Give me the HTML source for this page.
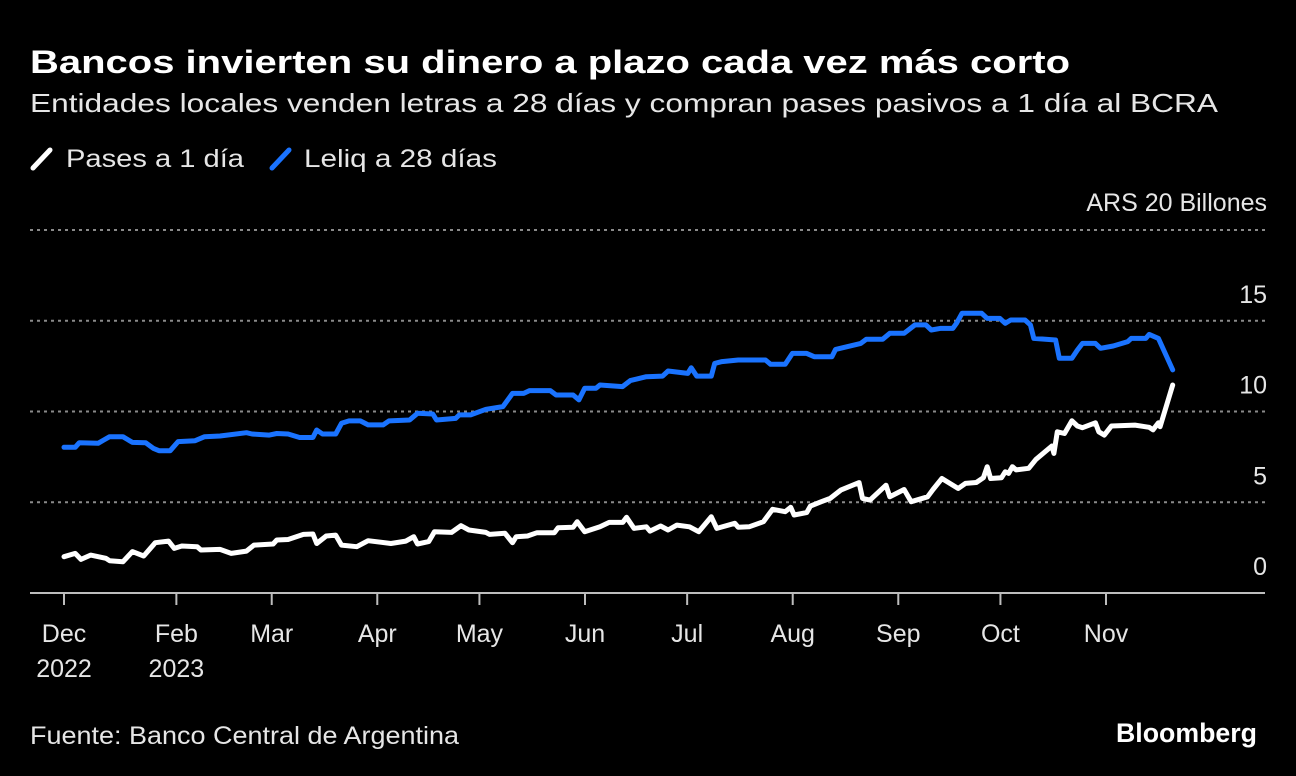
<!DOCTYPE html>
<html><head><meta charset="utf-8"><style>
html,body{margin:0;padding:0;background:#000;}
svg{display:block;}
text{font-family:"Liberation Sans",sans-serif;}
</style></head><body>
<svg id="chart" width="1296" height="776" viewBox="0 0 1296 776" xmlns="http://www.w3.org/2000/svg">
<rect width="1296" height="776" fill="#000"/>
<text x="30" y="73" fill="#fff" font-size="32" font-weight="bold" textLength="1040" lengthAdjust="spacingAndGlyphs">Bancos invierten su dinero a plazo cada vez más corto</text>
<text x="30" y="112" fill="#e6e6e6" font-size="26" textLength="1188" lengthAdjust="spacingAndGlyphs">Entidades locales venden letras a 28 días y compran pases pasivos a 1 día al BCRA</text>
<g>
<line x1="33" y1="168" x2="50" y2="150" stroke="#fff" stroke-width="5" stroke-linecap="round"/>
<text x="66" y="167" fill="#e6e6e6" font-size="25" textLength="178" lengthAdjust="spacingAndGlyphs">Pases a 1 día</text>
</g>
<g>
<line x1="272" y1="168" x2="289" y2="150" stroke="#1a73ff" stroke-width="5" stroke-linecap="round"/>
<text x="304" y="167" fill="#e6e6e6" font-size="25" textLength="193" lengthAdjust="spacingAndGlyphs">Leliq a 28 días</text>
</g>
<text x="1267" y="211" fill="#e6e6e6" font-size="25" text-anchor="end">ARS 20  Billones</text>
<g id="grid"></g>
<g id="axis"></g>
<g id="series"></g>
<text x="30" y="744" fill="#e6e6e6" font-size="25" textLength="429" lengthAdjust="spacingAndGlyphs">Fuente: Banco Central de Argentina</text>
<text x="1257" y="742" fill="#fff" font-size="27" font-weight="bold" text-anchor="end" textLength="141" lengthAdjust="spacingAndGlyphs">Bloomberg</text>
</svg>
<script>
const yTicks = [0, 5, 10, 15];
const monthDays = [0, 33, 61, 92, 122, 153, 183, 214, 245, 275, 306];
const monthLabels = ["Dec","Feb","Mar","Apr","May","Jun","Jul","Aug","Sep","Oct","Nov"];
const yearLabels = ["2022","2023","","","","","","","","",""];
const leliqDays = [0,3.3,4.5,10,11.7,13.4,17.3,20.1,24,26.2,27.9,31.2,33.5,38.5,41.3,45.8,53.6,55.2,60.3,62.5,65.8,69.2,73.1,74.2,75.9,79.8,81.5,83.7,87,89.3,93.7,95.4,101.5,103.8,108.3,109.4,115,116.1,119.4,123.9,128.9,131.7,135,136.7,142.8,144.5,149.5,151.2,152.9,156.2,157.4,164,166.3,171,175.8,177.4,183.2,184.2,185.8,190.1,191.1,193.2,198,206,207.5,211.8,213.9,218.1,220.3,225.5,226.6,234,235.6,240.4,242.5,246.7,249.9,253.1,254.7,257.3,261,262.1,263.7,269.5,271.1,274.8,276.4,278,282.2,283.8,284.8,291.2,292.3,296,297.6,299.1,302.9,304.4,308.1,312.4,313.4,317.7,318.7,321.4,325.6];
const leliqValues = [8.03,8.03,8.28,8.25,8.43,8.61,8.61,8.3,8.28,7.97,7.84,7.84,8.34,8.39,8.61,8.65,8.83,8.76,8.7,8.79,8.76,8.57,8.57,8.98,8.76,8.76,9.35,9.48,9.48,9.26,9.26,9.48,9.53,9.9,9.86,9.53,9.62,9.81,9.81,10.12,10.27,11.0,11.0,11.15,11.15,10.91,10.91,10.64,11.28,11.28,11.46,11.37,11.7,11.92,11.95,12.23,12.1,12.41,11.95,11.95,12.65,12.75,12.84,12.84,12.6,12.6,13.2,13.2,13.02,13.02,13.42,13.75,13.98,13.98,14.31,14.31,14.77,14.77,14.49,14.58,14.58,14.86,15.41,15.41,15.13,15.13,14.86,15.04,15.04,14.77,14.03,13.94,12.93,12.93,13.39,13.75,13.75,13.48,13.61,13.85,14.03,14.03,14.25,14.03,12.29];
const pasesDays = [0,3.3,5,7.8,12.3,13.4,17.3,20.1,23.4,26.8,30.7,32.4,34.6,39.1,40.2,45.8,49.1,53.6,55.8,61.4,62.5,65.8,70.3,73.1,74.2,77,79.8,81.5,86,89.3,96,100.4,102.7,103.8,107.1,108.8,113.8,116.6,118.9,123.9,125,129.5,131.7,132.8,136.1,138.9,144,145.1,149.5,150.7,152.9,157.4,160.1,164.1,165.2,167.4,171,172.1,175.2,177.4,180,183.7,186.4,190.1,191.7,197,198,201.2,205.4,208.1,211.8,213.4,214.4,218.1,219.2,222.4,225,228.2,233.5,234.5,236.7,241.4,242.5,246.7,248.8,253.6,255.2,257.8,262.6,264.7,267.9,270,271.1,272.1,275.3,276.4,277.4,278.5,279.6,283.3,285.4,290.1,290.7,291.7,293.8,296,297.6,299.1,302.9,303.9,305.5,307.6,314.5,318.7,319.8,321.4,321.9,325.6];
const pasesValues = [2.0,2.18,1.85,2.09,1.91,1.78,1.72,2.28,2.04,2.77,2.86,2.46,2.59,2.55,2.37,2.4,2.18,2.31,2.64,2.7,2.92,2.95,3.23,3.25,2.73,3.14,3.19,2.64,2.55,2.88,2.73,2.86,3.1,2.7,2.83,3.38,3.34,3.71,3.47,3.34,3.23,3.29,2.77,3.1,3.14,3.32,3.32,3.6,3.62,3.93,3.38,3.65,3.89,3.89,4.17,3.56,3.65,3.41,3.69,3.47,3.74,3.65,3.38,4.2,3.56,3.84,3.62,3.65,3.93,4.61,4.48,4.72,4.3,4.43,4.79,5.03,5.21,5.68,6.08,5.21,5.12,5.94,5.3,5.7,5.03,5.3,5.7,6.31,5.76,6.04,6.09,6.35,6.96,6.31,6.35,6.68,6.59,6.96,6.78,6.87,7.36,8.1,7.69,8.88,8.79,9.49,9.2,9.11,9.38,8.88,8.7,9.2,9.25,9.13,8.99,9.38,9.16,11.46];

const NS = "http://www.w3.org/2000/svg";
const xScale = d => 64 + d * (1106 - 64) / 306;
const yScale = v => 593 - v * (593 - 230) / 20;
function mk(tag, attrs, parent){const e=document.createElementNS(NS,tag);for(const k in attrs)e.setAttribute(k,attrs[k]);parent.appendChild(e);return e;}

const grid = document.getElementById('grid');
[...yTicks, 20].forEach(v => {
  if (v === 0) return;
  const l = mk('line',{x1:30,x2:1265,y1:yScale(v),y2:yScale(v),stroke:'#8a8a8a','stroke-width':2,'stroke-dasharray':'3,4'},grid);
  
  
});
yTicks.forEach(v => {
  const t = mk('text',{x:1267,y:yScale(v)-18,fill:'#e6e6e6','font-size':25,'text-anchor':'end'},grid);
  t.textContent = v;
  
  
});
const axis = document.getElementById('axis');
const base = mk('line',{x1:30,x2:1265,y1:593,y2:593,stroke:'#bdbdbd','stroke-width':2},axis);


monthDays.forEach((d,i) => {
  const x = xScale(d);
  const tk = mk('line',{x1:x,x2:x,y1:593,y2:605,stroke:'#bdbdbd','stroke-width':2},axis);
  
  
  const t = mk('text',{x:x,y:642,fill:'#e6e6e6','font-size':25,'text-anchor':'middle'},axis);
  t.textContent = monthLabels[i];
  
  
  if (yearLabels[i]) {
    const y = mk('text',{x:x,y:677,fill:'#e6e6e6','font-size':25,'text-anchor':'middle'},axis);
    y.textContent = yearLabels[i];
    
    
  }
});
const series = document.getElementById('series');
function path(days, vals){return days.map((d,i)=>(i?'L':'M')+xScale(d).toFixed(1)+','+yScale(vals[i]).toFixed(1)).join(' ');}
const lel = mk('path',{d:path(leliqDays,leliqValues),fill:'none',stroke:'#1a73ff','stroke-width':5,'stroke-linejoin':'round','stroke-linecap':'round'},series);


const pas = mk('path',{d:path(pasesDays,pasesValues),fill:'none',stroke:'#ffffff','stroke-width':5,'stroke-linejoin':'round','stroke-linecap':'round'},series);


</script>
</body></html>
